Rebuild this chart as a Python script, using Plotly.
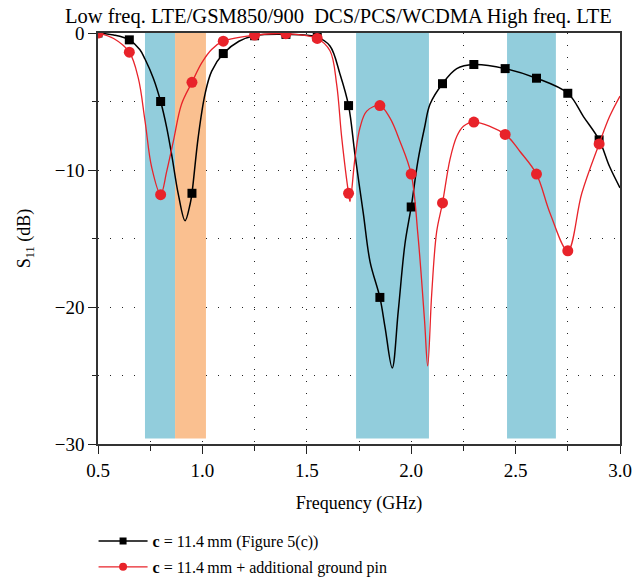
import plotly.graph_objects as go

# ---------------- data ----------------
marker_freq = [0.5, 0.65, 0.8, 0.95, 1.1, 1.25, 1.4, 1.55, 1.7, 1.85, 2.0,
               2.15, 2.3, 2.45, 2.6, 2.75, 2.9]
black_marker = [0.0, -0.5, -5.0, -11.7, -1.5, -0.2, -0.1, -0.3, -5.3, -19.3,
                -12.7, -3.7, -2.3, -2.6, -3.3, -4.4, -7.8]
red_marker = [0.0, -1.4, -11.8, -3.6, -0.6, -0.15, -0.05, -0.4, -11.7, -5.3,
              -10.3, -12.4, -6.5, -7.4, -10.3, -15.9, -8.1]

black_freq = [0.5, 0.575, 0.65, 0.7, 0.725, 0.765, 0.8, 0.829, 0.853, 0.885,
              0.917, 0.941, 0.95, 0.98, 1.012, 1.044, 1.1, 1.175, 1.25, 1.4,
              1.55, 1.611, 1.659, 1.7, 1.731, 1.771, 1.803, 1.85, 1.875, 1.909,
              1.938, 1.97, 2.0, 2.032, 2.064, 2.09, 2.15, 2.218, 2.3, 2.45,
              2.6, 2.75, 2.825, 2.9, 2.95, 3.0]
black_s11 = [0.0, -0.15, -0.5, -1.2, -1.9, -3.3, -5.0, -6.9, -8.9, -11.8,
             -13.7, -12.5, -11.7, -7.6, -4.5, -2.8, -1.5, -0.6, -0.2, -0.1,
             -0.3, -0.95, -3.0, -5.3, -8.9, -13.2, -16.7, -19.3, -21.5, -24.45,
             -20.3, -15.4, -12.7, -9.35, -6.9, -5.2, -3.7, -2.6, -2.3, -2.6,
             -3.3, -4.4, -6.1, -7.8, -9.75, -11.3]

red_freq = [0.5, 0.575, 0.65, 0.693, 0.725, 0.757, 0.8, 0.829, 0.861, 0.9,
            0.95, 0.996, 1.044, 1.1, 1.25, 1.4, 1.55, 1.611, 1.643, 1.667,
            1.7, 1.707, 1.731, 1.755, 1.787, 1.85, 1.898, 1.946, 2.0, 2.032,
            2.064, 2.079, 2.098, 2.122, 2.15, 2.186, 2.218, 2.25, 2.3, 2.45,
            2.521, 2.6, 2.665, 2.75, 2.817, 2.9, 2.95, 3.0]
red_s11 = [0.0, -0.4, -1.4, -3.3, -6.4, -9.8, -11.8, -10.1, -7.9, -5.2,
           -3.6, -2.2, -1.2, -0.6, -0.15, -0.05, -0.4, -1.3, -3.75, -7.6,
           -11.7, -12.3, -9.1, -6.9, -5.7, -5.3, -6.2, -7.9, -10.3, -14.7,
           -21.0, -24.3, -19.1, -14.5, -12.4, -9.2, -7.55, -6.8, -6.5, -7.4,
           -8.65, -10.3, -13.15, -15.9, -11.7, -8.1, -6.1, -4.6]

# frequency bands (GHz): start, end, colour
band_start = [0.725, 0.869, 1.736, 2.459]
band_end = [0.869, 1.017, 2.085, 2.693]
band_color = ["#92CDDC", "#FAC090", "#92CDDC", "#92CDDC"]
band_bottom = -29.6

band_title = "Low freq. LTE/GSM850/900\u00a0\u00a0DCS/PCS/WCDMA High freq. LTE"
name_black = "<b>c</b> = 11.4\u2009mm (Figure 5(c))"
name_red = "<b>c</b> = 11.4\u2009mm + additional ground pin"

RED = "#E8232A"
FONT = "Liberation Serif"

fig = go.Figure()

for s, e, c in zip(band_start, band_end, band_color):
    fig.add_shape(type="rect", xref="x", yref="y", x0=s, x1=e, y0=band_bottom, y1=0,
                  fillcolor=c, line=dict(width=0), layer="between")

# black curve + markers
fig.add_trace(go.Scatter(x=black_freq, y=black_s11, mode="lines",
                         line=dict(color="black", width=1.5, shape="spline", smoothing=1.0),
                         showlegend=False, hoverinfo="skip"))
fig.add_trace(go.Scatter(x=marker_freq, y=black_marker, mode="markers",
                         marker=dict(symbol="square", size=9, color="black"),
                         showlegend=False))
# red curve + markers
fig.add_trace(go.Scatter(x=red_freq, y=red_s11, mode="lines",
                         line=dict(color=RED, width=1.3, shape="spline", smoothing=1.0),
                         showlegend=False, hoverinfo="skip"))
fig.add_trace(go.Scatter(x=marker_freq, y=red_marker, mode="markers",
                         marker=dict(symbol="circle", size=11, color=RED),
                         showlegend=False))
# legend entries
fig.add_trace(go.Scatter(x=[None], y=[None], mode="lines+markers", name=name_black,
                         line=dict(color="black", width=1.5),
                         marker=dict(symbol="square", size=7, color="black"),
                         legendgroup="a"))
fig.add_trace(go.Scatter(x=[None], y=[None], mode="lines+markers", name=name_red,
                         line=dict(color=RED, width=1.3),
                         marker=dict(symbol="circle", size=8, color=RED),
                         legendgroup="b"))

fig.add_annotation(text=band_title, xref="paper", yref="paper", x=0.461, y=1.0,
                   xanchor="center", yanchor="bottom", yshift=3, showarrow=False,
                   font=dict(family=FONT, size=20.5, color="black"))

grid_dash = "1px,11px"
fig.update_xaxes(range=[0.5, 3.0], dtick=0.5, tick0=0.5, tickformat=".1f",
                 showline=True, linecolor="#333", linewidth=1.5, mirror=True,
                 ticks="outside", ticklen=8, tickwidth=1.3, tickcolor="#222",
                 showgrid=True, gridcolor="#222", gridwidth=1, griddash=grid_dash,
                 minor=dict(dtick=0.25, ticks="outside", ticklen=5, tickwidth=1.2,
                            tickcolor="#222", showgrid=True, gridcolor="#222",
                            gridwidth=1, griddash=grid_dash),
                 zeroline=False, automargin=False,
                 title=dict(text="Frequency (GHz)", font=dict(family=FONT, size=18), standoff=17),
                 tickfont=dict(family=FONT, size=19, color="black"))
fig.update_yaxes(range=[-30, 0], tickvals=[0, -10, -20, -30],
                 ticktext=["0", "\u221210", "\u221220", "\u221230"],
                 showline=True, linecolor="#333", linewidth=1.5, mirror=True,
                 ticks="outside", ticklen=8, tickwidth=1.3, tickcolor="#222",
                 showgrid=True, gridcolor="#222", gridwidth=1, griddash=grid_dash,
                 minor=dict(tickvals=[-5, -15, -25], ticks="outside", ticklen=4, tickwidth=1.2,
                            tickcolor="#222", showgrid=True, gridcolor="#222",
                            gridwidth=1, griddash=grid_dash),
                 zeroline=False, automargin=False,
                 title=dict(text="S<sub>11</sub> (dB)", font=dict(family=FONT, size=18), standoff=19),
                 tickfont=dict(family=FONT, size=19, color="black"))

fig.update_layout(
    width=633, height=584,
    margin=dict(l=98, r=13, t=33, b=140, autoexpand=False),
    paper_bgcolor="white", plot_bgcolor="white",
    font=dict(family=FONT, color="black"),
    legend=dict(x=-0.0085, y=-0.195, xanchor="left", yanchor="top",
                font=dict(family=FONT, size=16, color="black"),
                bgcolor="rgba(0,0,0,0)", tracegroupgap=2, itemwidth=49),
)

fig.write_html("out.html", config={"displayModeBar": False},
               post_script="document.body.style.margin='0';document.body.style.overflow='hidden';")
